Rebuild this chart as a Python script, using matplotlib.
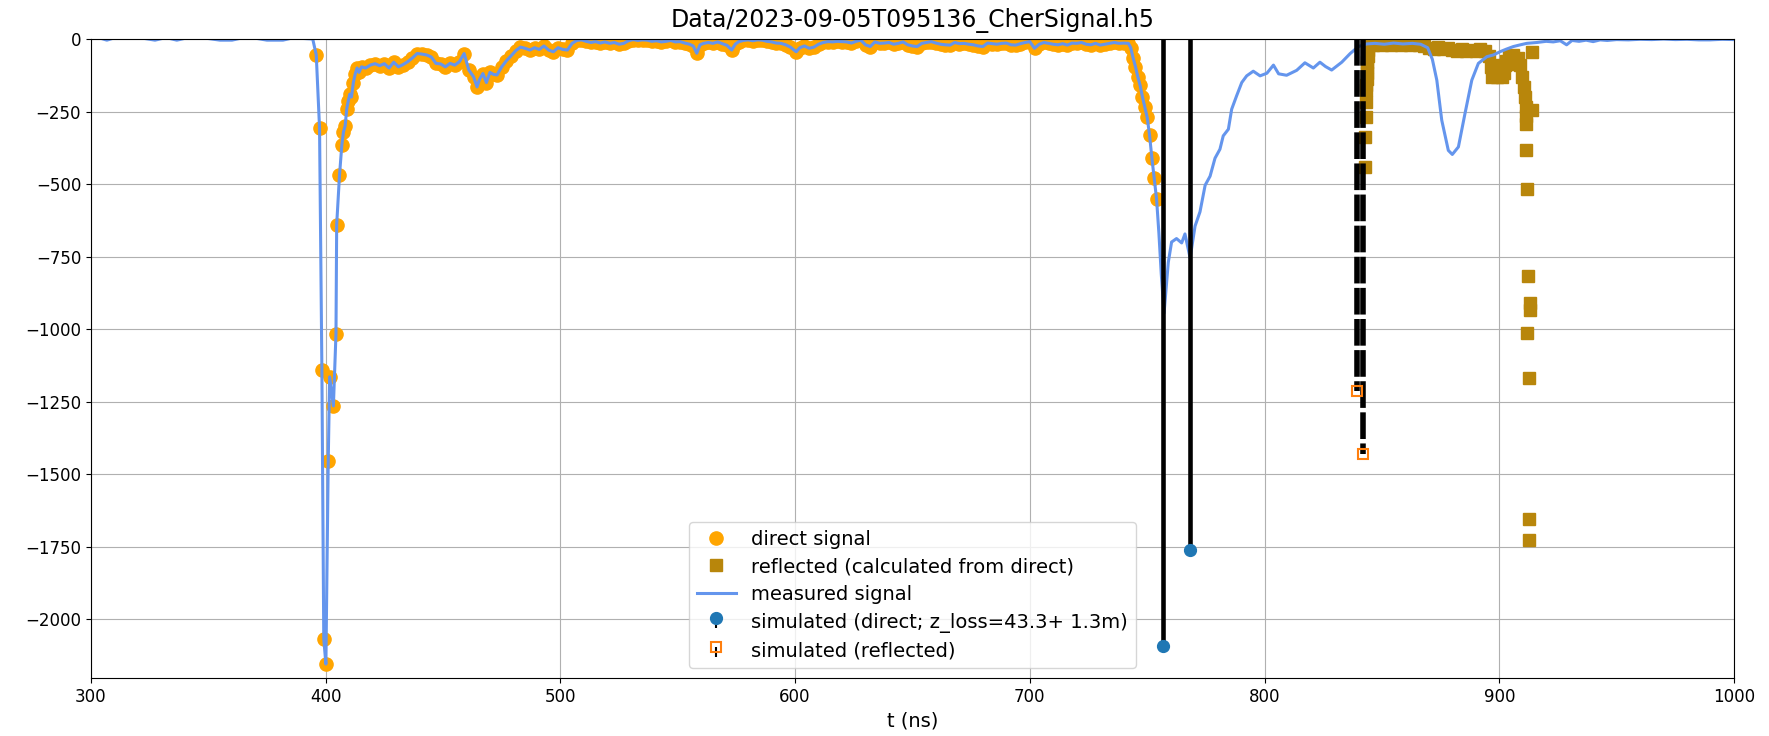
import matplotlib
matplotlib.use("Agg")
import matplotlib.pyplot as plt
import numpy as np

# ---------------- data ----------------
# measured signal (t in ns, amplitude)
meas_t = [300, 304, 306.8, 310, 316, 322, 327.3, 332, 336.6, 342, 348, 355, 360.1, 365, 370,
          375, 381.8, 386, 390, 394.5,
          396.0, 397.4, 398.4, 399.2, 400.1, 401.1, 401.7, 403.3, 404.4, 404.7, 405.9, 406.9,
          407.6, 408.3, 409.0, 409.6, 410.3, 411.0, 411.8, 412.6, 413.4, 414.2, 415.3,
          417, 419, 421, 423, 425, 427, 429, 431, 433, 435, 437, 439, 441, 443, 445, 447, 449,
          451, 453, 455, 457, 459, 461, 463, 464.5, 465.5, 467, 468.5, 470, 471.5, 473, 475, 477,
          479, 481, 483, 485, 487, 489, 491, 493, 495, 497, 499, 501, 503, 505, 507, 509, 511,
          513, 515, 517, 519, 521, 523, 525, 527, 529, 531, 533, 535, 537, 539, 541, 543, 545,
          547, 549, 551, 553, 555, 556.6, 558.1, 559.5, 561, 563, 565, 567, 569, 571, 573, 574.5,
          576, 578, 580, 582, 584, 586, 588, 590, 592, 594, 596, 598, 600.5, 602, 604, 606, 608,
          610, 612, 614, 616, 618, 620, 622, 624, 626, 628, 630, 632, 634, 636, 638, 640, 642,
          644, 646, 648, 650, 652, 654, 656, 658, 660, 662, 664, 666, 668, 670, 672, 674, 676,
          678, 680, 682, 684, 686, 688, 690, 692, 694, 696, 698, 700, 702, 704, 706, 708, 710,
          712, 714, 716, 718, 720, 722, 724, 726, 728, 730, 732, 734, 736, 738, 740, 742, 743,
          744, 745, 746, 747, 748, 749, 750, 751, 752, 753, 754, 755, 756, 757.2, 758.2, 759, 760.4,
          762.5, 764.7, 766.1, 768.3, 770.4, 772.5, 774.7, 776.8, 778.9, 781.0, 782.4, 784.6,
          786.0, 788.1, 790.3, 792.4, 795.2, 798.1, 801.0, 803.8, 806.0, 809.4, 813.7, 817.2,
          820.8, 823.6, 826, 828.6, 832.9, 836.5, 840.0, 843.5, 847, 851, 855, 859, 863, 866.5,
          869.5, 871.5, 873.4, 875.5, 878.3, 880.0, 882.6, 885.4, 888.3, 891.1, 894.7, 897.5,
          900.3, 903, 906.0, 909, 911.7, 916, 920, 923, 926, 928.7, 931, 934, 937, 940, 943, 946,
          950, 955, 960, 965, 970, 975, 980, 985, 989.8, 995, 1000]
meas_v = [5, 3, -4, 4, 6, 3, -4, 5, -4, 6, 4, -4, -4, 5, 3,
          -4, -4, 4, 2, 0,
          -55, -307, -1142, -2068, -2155, -1455, -1165, -1265, -1017, -640, -470, -365,
          -320, -300, -240, -215, -190, -200, -150, -120, -100, -115, -96,
          -100, -90, -85, -92, -85, -100, -80, -96, -88, -78, -65, -50, -52, -55, -62, -84, -86,
          -96, -84, -90, -78, -50, -107, -130, -165, -140, -119, -150, -115, -122, -124, -96, -75,
          -58, -40, -28, -32, -38, -30, -36, -24, -38, -44, -30, -36, -38, -15, -5, -3, -8,
          -12, -9, -14, -10, -15, -12, -18, -15, -6, -2, -5, -3, -4, -8, -6, -10, -8,
          -5, -10, -9, -14, -18, -24, -49, -20, -15, -12, -15, -10, -16, -22, -38, -18,
          -9, -5, -3, -6, -3, -4, -8, -10, -14, -15, -20, -28, -44, -30, -24, -32, -28,
          -18, -12, -9, -10, -8, -9, -10, -14, -8, -4, -20, -26, -10, -15, -14, -12, -18,
          -15, -10, -20, -24, -26, -15, -12, -9, -14, -18, -20, -21, -12, -16, -15, -18, -20,
          -24, -26, -14, -16, -18, -15, -14, -20, -21, -16, -12, -9, -32, -18, -12, -15, -18,
          -20, -16, -21, -14, -15, -12, -18, -20, -15, -21, -18, -15, -12, -15, -14, -15, -30,
          -65, -95, -130, -160, -200, -235, -270, -330, -410, -480, -551, -670, -810, -945, -850, -770, -700,
          -688, -703, -672, -755, -645, -596, -504, -473, -411, -380, -334, -311,
          -242, -196, -150, -127, -111, -127, -118, -90, -120, -125, -108, -82,
          -100, -80, -95, -107, -80, -50, -26, -17, -15, -18, -14, -17, -15, -18,
          -30, -70, -142, -280, -384, -398, -372, -257, -142, -84, -61, -55,
          -44, -35, -26, -20, -15, -12, -8, -10, -6, -20, -5, -8, -4, -9, -3, -5,
          -2, -3, -1, -2, 0, -2, -1, -3, -3, -1, -2]

# the direct signal is the part of the measured samples inside this window
direct_window = (395.5, 754.5)

# reflected signal (calculated from direct), read point by point
refl_t = [844.6, 844.4, 844.2, 844.0, 843.8, 843.7, 843.6, 843.5, 843.4, 843.3, 843.2, 843.1, 842.9, 842.8,
          846, 848, 850, 852, 854, 856, 858, 860, 862, 864, 866, 868, 870, 872, 874, 876, 878, 880,
          882, 884, 886, 888, 890, 892, 894,
          895.5, 896.5, 897, 897.5, 898, 898.5, 899, 899.5, 900, 900.5, 901, 901.5, 902, 902.5, 903,
          904, 905, 906, 907, 908,
          909, 909.8, 910.5, 911.0, 911.3, 911.5, 911.6, 913.8, 913.8, 911.4, 912.0, 912.4, 913.1,
          912.9, 912.0, 912.8, 912.8, 912.8]
refl_v = [-12, -22, -38, -58, -78, -98, -118, -138, -158, -176, -217, -268, -338, -441,
          -20, -15, -22, -18, -20, -15, -22, -18, -20, -17, -22, -25, -30, -33, -28, -35, -30, -38,
          -40, -35, -40, -38, -42, -36, -40,
          -60, -95, -132, -110, -128, -100, -132, -90, -120, -95, -130, -110, -118, -90, -75,
          -60, -85, -55, -78, -65,
          -90, -130, -165, -200, -235, -265, -294, -245, -44, -384, -516, -816, -910,
          -935, -1014, -1167, -1654, -1726]

# simulated pulses
sim_direct_t = [756.9, 768.3]
sim_direct_v = [-2093, -1762]
sim_refl_t = [839.5, 842.1]
sim_refl_v = [-1213, -1430]

x_ticks = [300, 400, 500, 600, 700, 800, 900, 1000]
y_ticks = [-2000, -1750, -1500, -1250, -1000, -750, -500, -250, 0]
title = "Data/2023-09-05T095136_CherSignal.h5"

# ---------------- plot ----------------
mt = np.array(meas_t, dtype=float)
mv = np.array(meas_v, dtype=float)
sel = (mt >= direct_window[0]) & (mt <= direct_window[1])
direct_t, direct_v = mt[sel], mv[sel]

fig = plt.figure(figsize=(17.69, 7.36), dpi=100)
ax = fig.add_axes([0.0514, 0.0788, 0.9288, 0.8682])

ax.plot(direct_t, direct_v, 'o', color='orange', ms=9.5, label='direct signal')
ax.plot(refl_t, refl_v, 's', color='darkgoldenrod', ms=8.5,
        label='reflected (calculated from direct)')
ax.plot(mt, mv, '-', color='cornflowerblue', lw=2.2, label='measured signal')

m1, s1, b1 = ax.stem(sim_direct_t, sim_direct_v, linefmt='k-', markerfmt='C0o',
                     basefmt=' ', label='simulated (direct; z_loss=43.3+ 1.3m)')
s1.set_linewidth(3.3)
m1.set_markersize(8.5)

m2, s2, b2 = ax.stem(sim_refl_t, sim_refl_v, linefmt='k--', markerfmt='C1s',
                     basefmt=' ', label='simulated (reflected)')
s2.set_linewidth(4)
s2.set_linestyle((0, (4.8, 0.8)))
m2.set_markerfacecolor('none')
m2.set_markersize(6.5)
m2.set_markeredgewidth(1.5)

ax.set_xlim(300, 1000)
ax.set_ylim(-2203, 0)
ax.set_xticks(x_ticks)
ax.set_yticks(y_ticks)
ax.tick_params(labelsize=12)
ax.grid(True)
ax.set_xlabel('t (ns)', fontsize=14)
ax.set_title(title, fontsize=17, pad=9)
ax.legend(loc='lower center', fontsize=14, labelspacing=0.45)

fig.savefig('out.png', dpi=100)
